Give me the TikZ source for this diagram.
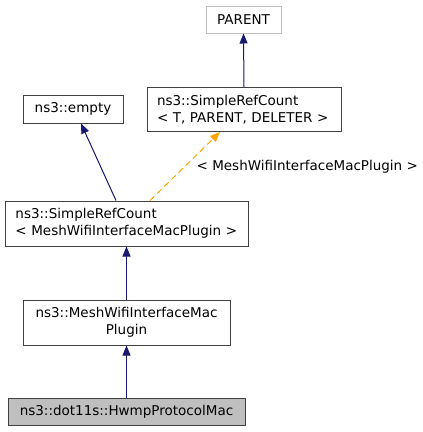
\documentclass[tikz,border=0pt]{standalone}
\usepackage{fontspec}
\setmainfont{DejaVu Sans}
\usetikzlibrary{arrows.meta}
\definecolor{navy}{HTML}{191970}
\definecolor{orng}{HTML}{FFA500}
\definecolor{grayfill}{HTML}{BFBFBF}
\begin{document}
\begin{tikzpicture}[x=1pt,y=-1pt,
  box/.style={draw=black!75, line width=1pt, fill=white, inner sep=0pt,
    font=\fontsize{13.5}{17}\selectfont},
  edge/.style={navy, line width=1pt, -{Triangle[length=10pt,width=8pt]}},
  tedge/.style={orng, line width=1pt, dashed, dash pattern=on 6pt off 4pt, -{Triangle[length=10pt,width=8pt]}}]
\useasboundingbox[fill=white] (0,0) rectangle (423,432);
\node[box, draw=grayfill, minimum width=75pt, minimum height=27pt] (parent) at (243.5,19.5) {PARENT};
\node[box, minimum width=100pt, minimum height=28pt] (empty) at (73,109) {ns3::empty};
\node[box, minimum width=194pt, minimum height=44pt, text width=174pt, align=left] (srcT) at (244,109.5) {ns3::SimpleRefCount\\\textless{} T, PARENT, DELETER \textgreater};
\node[box, minimum width=243pt, minimum height=45pt, text width=222pt, align=left] (srcM) at (126.5,223.5) {ns3::SimpleRefCount\\\textless{} MeshWifiInterfaceMacPlugin \textgreater};
\node[box, minimum width=207pt, minimum height=45pt, align=center] (plugin) at (126.5,322.5) {ns3::MeshWifiInterfaceMac\\Plugin};
\node[box, fill=grayfill, minimum width=237pt, minimum height=27pt] (hwmp) at (126.5,411.5) {ns3::dot11s::HwmpProtocolMac};
\draw[edge] (srcT.north) -- (parent.south);
\draw[edge] ([xshift=-10.5pt]srcM.north) -- ([xshift=8pt]empty.south);
\draw[tedge] ([xshift=23.5pt]srcM.north) -- ([xshift=-24pt]srcT.south);
\node[anchor=base west, inner sep=0pt, font=\fontsize{13.5}{17}\selectfont] (lbl) at (196.5,170) {\textless{} MeshWifiInterfaceMacPlugin \textgreater};
\draw[edge] (plugin.north) -- (srcM.south);
\draw[edge] (hwmp.north) -- (plugin.south);
\end{tikzpicture}
\end{document}
